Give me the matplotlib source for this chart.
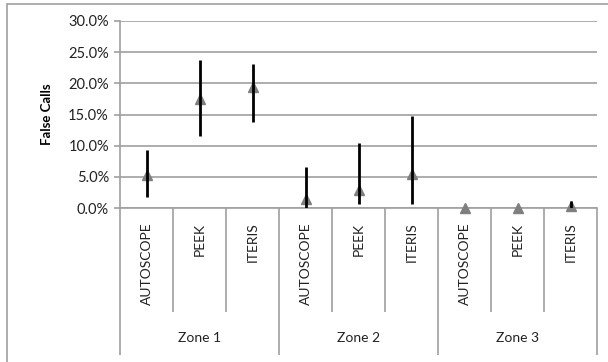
import matplotlib
matplotlib.use('Agg')
import matplotlib.pyplot as plt
from matplotlib.patches import Rectangle
import numpy as np

plt.rcParams['font.family'] = ['Lato', 'DejaVu Sans']

zones = ['Zone 1', 'Zone 2', 'Zone 3']
systems = ['AUTOSCOPE', 'PEEK', 'ITERIS']

# false call rate (%) per zone/system, with low/high range
mean = [5.3, 17.5, 19.4, 1.5, 2.9, 5.5, 0.0, 0.0, 0.3]
low = [1.7, 11.6, 13.8, 0.0, 0.7, 0.7, 0.0, 0.0, 0.0]
high = [9.3, 23.8, 23.1, 6.6, 10.4, 14.8, 0.0, 0.0, 1.1]

yticks = [0, 5, 10, 15, 20, 25, 30]

grey = '#a0a0a0'

fig = plt.figure(figsize=(6.08, 3.62), dpi=100)
ax = fig.add_axes([120 / 608, 1 - 208 / 362, 477 / 608, 187 / 362])

# outer chart border
fig.patches.append(Rectangle((7 / 608, -0.5), 2, 0.5 + (1 - 4 / 362), transform=fig.transFigure,
                             fill=False, edgecolor=grey, lw=1.2))

x = np.arange(len(mean))
m = np.array(mean)
yerr = [m - np.array(low), np.array(high) - m]

ax.plot(x, m, linestyle='none', marker='^', color='#7f7f7f', markersize=7, zorder=3, clip_on=False)
ax.errorbar(x, m, yerr=yerr, fmt='none', ecolor='black', elinewidth=2, capsize=0, zorder=4)

ax.set_xlim(-0.5, len(mean) - 0.5)
ax.set_ylim(0, 30)
ax.set_yticks(yticks)
ax.set_yticklabels(['%.1f%%' % v for v in yticks], fontsize=10.5, color='#222222')
ax.yaxis.grid(True, color=grey, lw=1.2)
ax.set_axisbelow(True)
ax.tick_params(axis='y', length=4, color=grey, width=1.2, pad=4)

ax.set_ylabel('False Calls', fontsize=9.5, fontweight='bold', labelpad=11)

# category separator ticks
ngroup = len(systems)
major = [i * ngroup - 0.5 for i in range(len(zones) + 1)]
minor = [b + 0.5 for b in x[:-1] if (b + 1) % ngroup != 0]
ax.set_xticks(major)
ax.set_xticks(minor, minor=True)
ax.set_xticklabels([])
ax.tick_params(axis='x', which='major', length=106, color=grey, width=1.2)
ax.tick_params(axis='x', which='minor', length=75, color=grey, width=1.2)

for i, xi in enumerate(x):
    ax.annotate(systems[i % ngroup], xy=(xi, 0), xycoords=('data', 'axes fraction'),
                xytext=(0, -10.5), textcoords='offset points', rotation=90,
                ha='center', va='top', fontsize=10, color='#222222')
for g, z in enumerate(zones):
    ax.annotate(z, xy=(g * ngroup + (ngroup - 1) / 2, 0), xycoords=('data', 'axes fraction'),
                xytext=(0, -93.5), textcoords='offset points',
                ha='center', va='center', fontsize=10, color='#222222')

for s in ['top', 'right']:
    ax.spines[s].set_visible(False)
for s in ['left', 'bottom']:
    ax.spines[s].set_color(grey)
    ax.spines[s].set_linewidth(1.2)

fig.savefig('out.png', dpi=100)
